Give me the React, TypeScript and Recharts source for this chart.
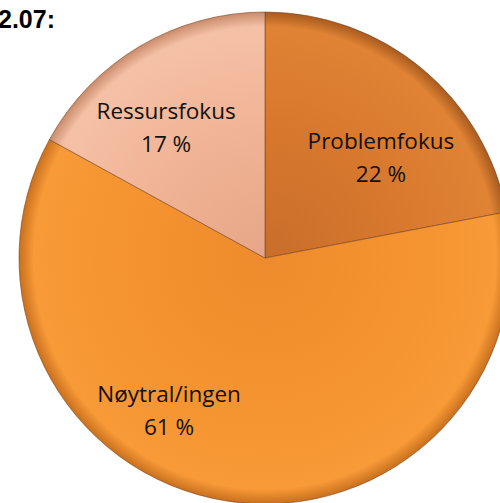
import { Cell, Pie, PieChart } from 'recharts';

const categories = ['Problemfokus', 'Nøytral/ingen', 'Ressursfokus'];
const shares = [22, 61, 17];
const valueLabels = ['22 %', '61 %', '17 %'];

const data = categories.map((name, i) => ({ name, value: shares[i], text: valueLabels[i] }));

// gradient stops per slice: inner, body, edge, rim
const sliceColors = [
  ['#C86E2A', '#D8782E', '#E08334', '#A85A1E'],
  ['#EE8B2C', '#F4932F', '#F79A37', '#C9701E'],
  ['#E6A687', '#F1B496', '#F5C1A6', '#C98C6C'],
];

// where Excel put the labels, relative to the slice mid angle
const labelNudge = [
  { turn: 11.8, reach: 0.603 },
  { turn: 22, reach: 0.757 },
  { turn: -8.3, reach: 0.64 },
];

const RAD = Math.PI / 180;

function SliceLabel(props: any) {
  const { cx, cy, midAngle, outerRadius, index, payload } = props;
  const nudge = labelNudge[index];
  const a = (midAngle - nudge.turn) * RAD;
  const r = outerRadius * nudge.reach;
  const x = cx + r * Math.cos(a);
  const y = cy - r * Math.sin(a);
  return (
    <text
      x={x}
      y={y}
      textAnchor="middle"
      fill="#111"
      fontFamily="'Open Sans', sans-serif"
      fontSize={22.5}
    >
      <tspan x={x} y={y - 16}>
        {payload.name}
      </tspan>
      <tspan x={x} y={y + 17}>
        {payload.text}
      </tspan>
    </text>
  );
}

export default function App() {
  const cx = 265;
  const cy = 258;
  const radius = 246;

  return (
    <div style={{ position: 'absolute', left: 0, top: 0, width: 500, height: 503, background: '#fff', overflow: 'hidden' }}>
      <PieChart width={500} height={503} margin={{ top: 0, right: 0, bottom: 0, left: 0 }}>
        <defs>
          {sliceColors.map((c, i) => (
            <radialGradient
              key={i}
              id={`slice-${i}`}
              gradientUnits="userSpaceOnUse"
              cx={cx}
              cy={cy}
              r={radius}
            >
              <stop offset="0%" stopColor={c[0]} />
              <stop offset="55%" stopColor={c[1]} />
              <stop offset="94%" stopColor={c[2]} />
              <stop offset="100%" stopColor={c[3]} />
            </radialGradient>
          ))}
        </defs>
        <Pie
          data={data}
          dataKey="value"
          nameKey="name"
          cx={cx}
          cy={cy}
          outerRadius={radius}
          startAngle={90}
          endAngle={-270}
          stroke="#7A4420"
          strokeWidth={0.6}
          label={SliceLabel}
          labelLine={false}
          isAnimationActive={false}
        >
          {data.map((d, i) => (
            <Cell key={d.name} fill={`url(#slice-${i})`} />
          ))}
        </Pie>
      </PieChart>
      <svg width={500} height={503} style={{ position: 'absolute', left: 0, top: 0, pointerEvents: 'none' }}>
        <text x={-2} y={28} fontFamily="'Liberation Sans', Arial, sans-serif" fontWeight="bold" fontSize={25} fill="#000">
          2.07:
        </text>
      </svg>
    </div>
  );
}
